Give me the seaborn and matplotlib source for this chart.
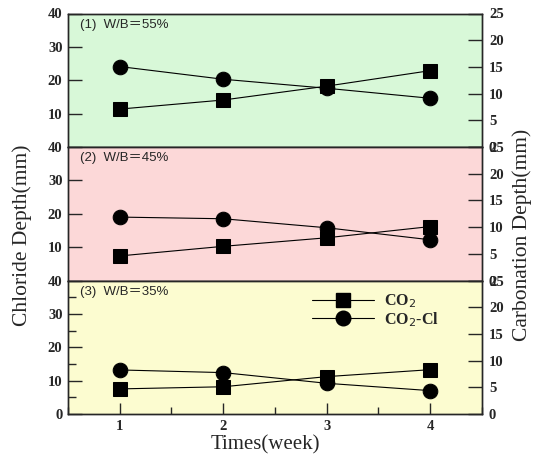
import matplotlib
matplotlib.use("Agg")
import matplotlib.pyplot as plt
import pandas as pd
import seaborn as sns
from matplotlib.font_manager import FontProperties
from matplotlib.lines import Line2D
from matplotlib.ticker import MultipleLocator

sns.set_style("ticks")
plt.rcParams["font.family"] = ["Liberation Serif", "DejaVu Serif"]

weeks = [1, 2, 3, 4]
panel_labels = ["(1)  W/B\uff1d55%", "(2)  W/B\uff1d45%", "(3)  W/B\uff1d35%"]
panel_colors = ["#d8f8d8", "#fcd8d8", "#fcfcd0"]

# chloride depth (mm), left axis - CO2-Cl series (circles)
co2cl_chloride = [
    [24.1, 20.3, 17.6, 14.6],
    [19.0, 18.5, 15.8, 12.2],
    [13.2, 12.4, 9.2, 7.0],
]
# carbonation depth (mm), right axis - CO2 series (squares)
co2_carbonation = [
    [7.1, 8.8, 11.4, 14.3],
    [4.6, 6.4, 8.0, 10.1],
    [4.7, 5.1, 7.0, 8.3],
]

fig = plt.figure(figsize=(5.42, 4.54), dpi=100)
left, width, height = 68 / 542, 414 / 542, 133.5 / 454
bottoms = [(454 - 147) / 454, (454 - 280.5) / 454, (454 - 414) / 454]

tick_fp = FontProperties(family="Liberation Serif", weight="bold", size=10.5)


def style_labels(labels):
    for lab in labels:
        lab.set_fontproperties(tick_fp)


for i in range(3):
    ax = fig.add_axes([left, bottoms[i], width, height])
    ax.set_facecolor(panel_colors[i])
    df = pd.DataFrame({"week": weeks, "cl": co2cl_chloride[i], "co2": co2_carbonation[i]})
    sns.lineplot(data=df, x="week", y="cl", marker="o", color="black", lw=0.8,
                 markersize=10.5, markeredgecolor="black", ax=ax)
    ax.set_xlim(0.5, 4.5)
    ax.set_ylim(0, 40)
    ax.set_xlabel("")
    ax.set_ylabel("")
    ax.tick_params(axis="y", direction="in", length=10, width=1, pad=4)
    if i == 2:
        ax.set_yticks([0, 10, 20, 30, 40])
        ax.yaxis.set_minor_locator(MultipleLocator(5))
        ax.tick_params(axis="y", which="minor", direction="in", length=6, width=1)
        ax.set_xticks(weeks)
        ax.xaxis.set_minor_locator(MultipleLocator(0.5))
        ax.tick_params(axis="x", which="major", direction="in", length=8, width=1, pad=4)
        ax.tick_params(axis="x", which="minor", direction="in", length=5, width=1)
        style_labels(ax.get_xticklabels())
    else:
        ax.set_yticks([10, 20, 30, 40])
        ax.set_xticks([])
    style_labels(ax.get_yticklabels())
    for sp in ax.spines.values():
        sp.set_linewidth(1.0)
        sp.set_visible(True)
    ax.text(0.03, 0.915, panel_labels[i], transform=ax.transAxes, fontsize=9.5,
            family=["Liberation Sans", "Noto Sans CJK SC"], va="center")

    ax2 = ax.twinx()
    sns.lineplot(data=df, x="week", y="co2", marker="s", color="black", lw=0.8,
                 markersize=10.5, markeredgecolor="black", ax=ax2)
    ax2.set_ylim(0, 25)
    ax2.set_ylabel("")
    ax2.set_yticks([0, 5, 10, 15, 20, 25])
    ax2.tick_params(axis="y", direction="in", length=10, width=1, pad=5)
    style_labels(ax2.get_yticklabels())
    for sp in ax2.spines.values():
        sp.set_linewidth(1.0)
        sp.set_visible(True)
    ax2.set_xlim(0.5, 4.5)

    if i == 2:
        handles = [
            Line2D([], [], color="black", lw=0.8, marker="s", markersize=10.5),
            Line2D([], [], color="black", lw=0.8, marker="o", markersize=10.5),
        ]
        ax2.legend(handles, ["CO$_2$", "CO$_2$-Cl"], loc="upper left",
                   bbox_to_anchor=(0.555, 1.02), frameon=False, handlelength=3.9,
                   prop=dict(family="Liberation Serif", weight="bold", size=11.5),
                   labelspacing=0.0, handletextpad=0.6)

fig.text(22 / 542, (454 - 235) / 454, "Chloride Depth(mm)", rotation=90,
         ha="center", va="center", fontsize=15.5)
fig.text(522 / 542, (454 - 235) / 454, "Carbonation Depth(mm)", rotation=90,
         ha="center", va="center", fontsize=15.5)
fig.text(265 / 542, (454 - 445) / 454, "Times(week)", ha="center", va="center", fontsize=15)

fig.savefig("out.png", dpi=100)
